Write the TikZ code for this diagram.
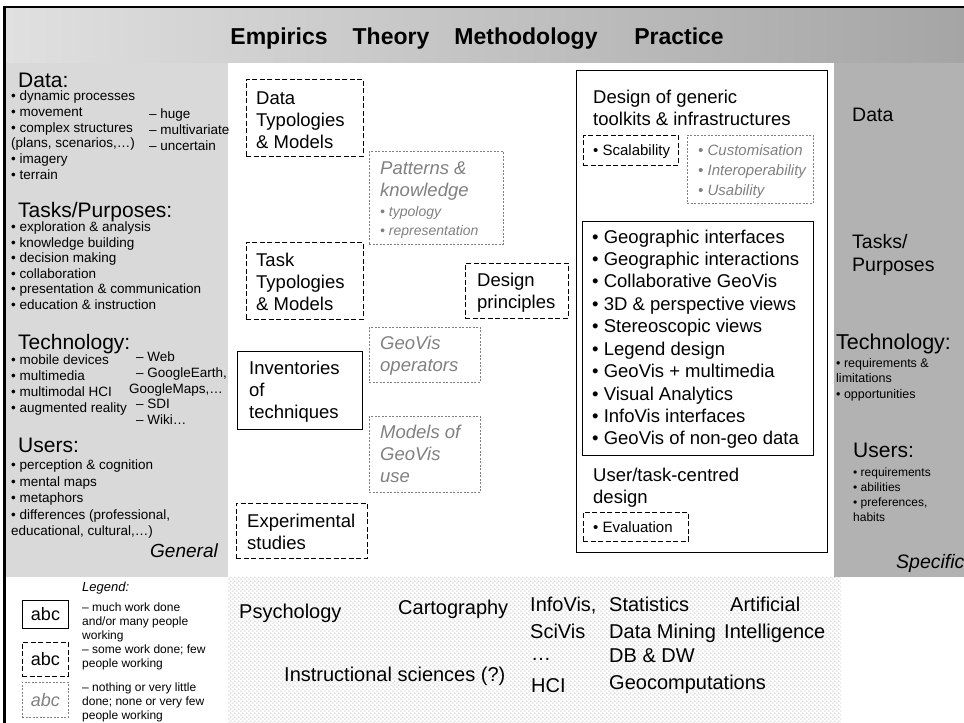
\documentclass[tikz,border=0pt]{standalone}
\usepackage{fontspec}
\setmainfont{Liberation Sans}
\setsansfont{Liberation Sans}
\usetikzlibrary{patterns}
\definecolor{panelL}{RGB}{217,217,217}
\definecolor{panelR}{RGB}{178,178,178}
\definecolor{headL}{RGB}{224,224,224}
\definecolor{headR}{RGB}{165,165,165}
\definecolor{faint}{RGB}{128,128,128}
\definecolor{dotgray}{RGB}{175,175,175}
\newcommand\fs[2]{\fontsize{#1}{#2}\selectfont}
\pgfdeclarepatternformonly{dotgrid}{\pgfqpoint{0pt}{0pt}}{\pgfqpoint{4.4pt}{4.4pt}}{\pgfqpoint{4.4pt}{4.4pt}}{%
  \pgfpathcircle{\pgfqpoint{1.1pt}{1.1pt}}{0.75pt}%
  \pgfpathcircle{\pgfqpoint{3.3pt}{3.3pt}}{0.75pt}%
  \pgfusepath{fill}}

\begin{document}
\begin{tikzpicture}[x=1pt,y=-1pt,
  muchwork/.style={draw,line width=1pt,anchor=north west,inner sep=0pt},
  somework/.style={muchwork,line width=0.9pt,dash pattern=on 5pt off 2.5pt},
  littlework/.style={muchwork,draw=faint,line width=0.7pt,dash pattern=on 2pt off 1.5pt},
  txt/.style={anchor=base west,inner sep=0pt,align=left},
  boxtext/.style={txt,font=\fs{18.5}{22}},
  boxfaint/.style={txt,text=faint,font=\fs{18.5}{22}\itshape},
  mid/.style={txt,font=\fs{15}{20}},
  midfaint/.style={txt,text=faint,font=\fs{15}{20}\itshape},
  head/.style={txt,font=\fs{21}{24}},
  item/.style={txt,font=\fs{13.5}{16}},
  note/.style={txt,font=\fs{12}{14}},
  field/.style={txt,font=\fs{20}{23}}]
\useasboundingbox (0,0) rectangle (964,723);

% panels and frame
\fill[panelL] (5,60) rectangle (228,577);
\fill[panelR] (834,60) rectangle (964,577);
\shade[left color=headL,right color=headR] (5,8) rectangle (964,62);
\fill[pattern=dotgrid,pattern color=dotgray] (228,577) rectangle (841,723);
\draw[line width=2pt] (3,7) -- (964,7);
\draw[line width=3pt] (4.5,6) -- (4.5,723);

% header
\foreach \w/\xc [count=\i] in {Empirics/279,Theory/391,Methodology/526,Practice/679}
  \node[anchor=base,inner sep=0pt,font=\bfseries\fs{23}{26}] (col\i) at (\xc,44) {\w};

% left panel: general
\node[head] (hdata) at (18,87) {Data:};
\foreach \t [count=\i from 0] in {• dynamic processes,• movement,• complex structures,{(plans, scenarios,…)},• imagery,• terrain}
  \node[item] (data\i) at (11,100.5+15.8*\i) {\t};
\foreach \t [count=\i from 0] in {huge,multivariate,uncertain}
  \node[item] (datax\i) at (149,118.7+15.8*\i) {– \t};

\node[head] (htask) at (18,217) {Tasks/Purposes:};
\foreach \t [count=\i from 0] in {exploration \& analysis,knowledge building,decision making,collaboration,presentation \& communication,education \& instruction}
  \node[item] (task\i) at (11,231.5+15.6*\i) {• \t};

\node[head] (htech) at (18,349) {Technology:};
\foreach \t [count=\i from 0] in {mobile devices,multimedia,multimodal HCI,augmented reality}
  \node[item] (tech\i) at (11,364.5+16*\i) {• \t};
\foreach \t/\xa [count=\i from 0] in {– Web/136,{– GoogleEarth,}/136,{GoogleMaps,…}/129,– SDI/136,– Wiki…/136}
  \node[item] (techx\i) at (\xa,361.5+15.8*\i) {\t};

\node[head] (huser) at (18,452) {Users:};
\foreach \t [count=\i from 0] in {• perception \& cognition,• mental maps,• metaphors,{• differences (professional,},{educational, cultural,…)}}
  \node[item] (user\i) at (11,469.5+16.5*\i) {\t};
\node[anchor=base east,inner sep=0pt,font=\fs{19}{22}\itshape] (general) at (218,557) {General};

% right panel: specific (multi-line nodes sit on their last line)
\node[txt,font=\fs{19.5}{23}] (sdata) at (852,121.5) {Data};
\node[txt,font=\fs{19.5}{23}] (stask) at (852,271.5) {Tasks/\\Purposes};
\node[txt,font=\fs{21.5}{24}] (stech) at (836,349) {Technology:};
\node[note,font=\fs{12.5}{15.5}] (stechi) at (836,398) {• requirements \&\\limitations\\• opportunities};
\node[txt,font=\fs{21}{24}] (suser) at (853,457) {Users:};
\node[note,font=\fs{12}{15}] (suseri) at (853,521) {• requirements\\• abilities\\• preferences,\\habits};
\begin{scope}
  \clip (834,60) rectangle (964,577);
  \node[txt,font=\fs{19.5}{22}\itshape] (specific) at (896,568) {Specific};
\end{scope}

% empirics / theory / methodology
\node[somework,minimum width=117,minimum height=77] (dtm) at (246,79) {};
\node[boxtext] (dtmtxt) at (256,148) {Data\\Typologies\\\& Models};
\node[littlework,minimum width=134,minimum height=93] (pat) at (369,151) {};
\node[boxfaint] (pattxt) at (380,196) {Patterns \&\\knowledge};
\node[txt,text=faint,font=\fs{14}{19}\itshape] (patitems) at (380,235) {• typology\\• representation};
\node[somework,minimum width=117,minimum height=77] (ttm) at (246,242) {};
\node[boxtext] (ttmtxt) at (256,310) {Task\\Typologies\\\& Models};
\node[somework,minimum width=103,minimum height=55] (dp) at (465,263) {};
\node[boxtext] (dptxt) at (477,308) {Design\\principles};
\node[littlework,minimum width=111,minimum height=55] (ops) at (369,327) {};
\node[boxfaint] (opstxt) at (380,371) {GeoVis\\operators};
\node[muchwork,minimum width=125,minimum height=78] (inv) at (237,351) {};
\node[boxtext] (invtxt) at (249,418) {Inventories\\of\\techniques};
\node[littlework,minimum width=111,minimum height=76] (mod) at (369,416) {};
\node[boxfaint] (modtxt) at (380,482) {Models of\\GeoVis\\use};
\node[somework,minimum width=131,minimum height=55] (exp) at (236,503) {};
\node[boxtext] (exptxt) at (247,549) {Experimental\\studies};

% practice
\node[muchwork,line width=1.2pt,minimum width=251,minimum height=482] (prac) at (576,70) {};
\node[boxtext] (generic) at (593,125) {Design of generic\\toolkits \& infrastructures};
\node[somework,minimum width=95,minimum height=30] (scal) at (583,135) {};
\node[mid] (scaltxt) at (593,155) {• Scalability};
\node[littlework,minimum width=126,minimum height=68] (cust) at (687,135) {};
\node[midfaint] (custtxt) at (698,195) {• Customisation\\• Interoperability\\• Usability};
\node[muchwork,minimum width=231,minimum height=234] (topics) at (582,221) {};
\foreach \t [count=\i from 0] in {Geographic interfaces,Geographic interactions,Collaborative GeoVis,3D \& perspective views,Stereoscopic views,Legend design,GeoVis + multimedia,Visual Analytics,InfoVis interfaces,GeoVis of non-geo data}
  \node[boxtext] (topic\i) at (592,243+22.44*\i) {• \t};
\node[boxtext] (ucd) at (593,503) {User/task-centred\\design};
\node[somework,minimum width=105,minimum height=29] (eval) at (583,512) {};
\node[mid] (evaltxt) at (593,532) {• Evaluation};

% legend
\node[txt,font=\fs{13}{16}\itshape] (legend) at (82,591.5) {Legend:};
\node[muchwork,minimum width=46,minimum height=28,font=\fs{18}{22}] (lg1) at (22,600) {abc};
\node[somework,minimum width=46,minimum height=34,font=\fs{18}{22}] (lg2) at (22,642) {abc};
\node[littlework,minimum width=46,minimum height=35,text=faint,font=\fs{18}{22}\itshape] (lg3) at (22,682) {abc};
\node[note] (lgt1) at (82,639) {– much work done\\and/or many people\\working};
\node[note] (lgt2) at (82,667) {– some work done; few\\people working};
\node[note] (lgt3) at (82,719) {– nothing or very little\\done; none or very few\\people working};

% neighbouring fields
\foreach \t/\xa/\yb [count=\i] in {Psychology/239/618,Cartography/398/614,{InfoVis,}/530/611,Statistics/609/611,Artificial/730/611,SciVis/530/638,Data Mining/609/638,Intelligence/724/638,…/531/660,DB \& DW/609/662,Instructional sciences (?)/284/681,HCI/531/692,Geocomputations/609/689}
  \node[field] (field\i) at (\xa,\yb) {\t};
\end{tikzpicture}
\end{document}
